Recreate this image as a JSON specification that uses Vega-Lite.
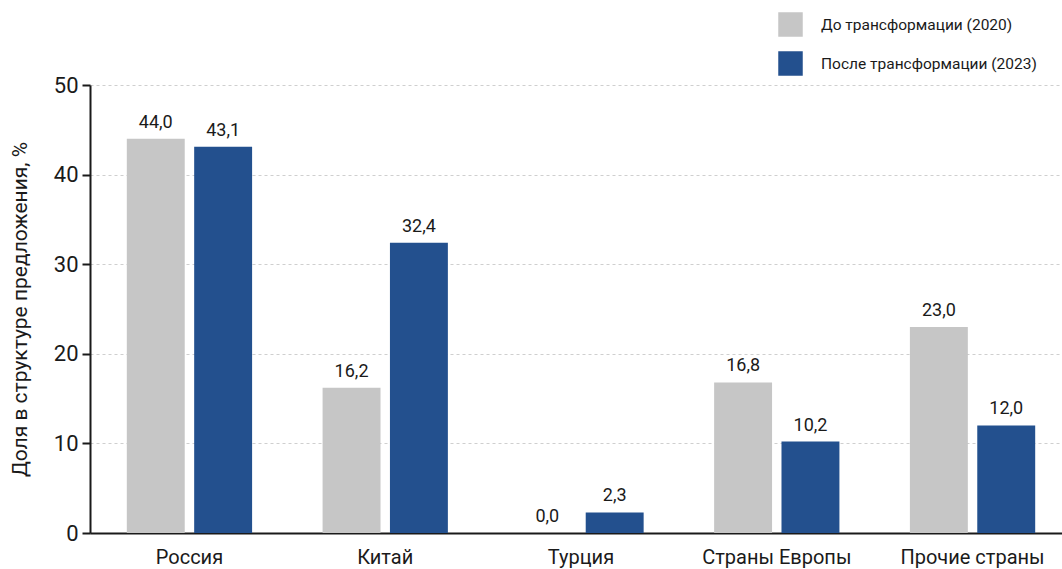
{
  "$schema": "https://vega.github.io/schema/vega-lite/v6.json",
  "width": 972,
  "height": 448,
  "autosize": {"type": "none"},
  "padding": {"left": 90, "top": 85, "right": 0, "bottom": 36},
  "background": "white",
  "config": {
    "font": "Roboto",
    "view": {"stroke": null},
    "locale": {"number": {"decimal": ",", "thousands": " ", "grouping": [3], "currency": ["", ""]}}
  },
  "data": {
    "values": [
      {"country": "Россия", "period": "До трансформации (2020)", "value": 44.0},
      {"country": "Россия", "period": "После трансформации (2023)", "value": 43.1},
      {"country": "Китай", "period": "До трансформации (2020)", "value": 16.2},
      {"country": "Китай", "period": "После трансформации (2023)", "value": 32.4},
      {"country": "Турция", "period": "До трансформации (2020)", "value": 0.0},
      {"country": "Турция", "period": "После трансформации (2023)", "value": 2.3},
      {"country": "Страны Европы", "period": "До трансформации (2020)", "value": 16.8},
      {"country": "Страны Европы", "period": "После трансформации (2023)", "value": 10.2},
      {"country": "Прочие страны", "period": "До трансформации (2020)", "value": 23.0},
      {"country": "Прочие страны", "period": "После трансформации (2023)", "value": 12.0}
    ]
  },
  "encoding": {
    "x": {
      "field": "country", "type": "nominal", "sort": null,
      "scale": {"range": [0, 982], "paddingInner": 0.36, "paddingOuter": 0.188},
      "axis": {
        "title": null, "labelAngle": 0, "labelFontSize": 20, "labelColor": "#1a1a1a",
        "ticks": false, "labelPadding": 14, "domainColor": "#1a1a1a", "domainWidth": 2
      }
    },
    "xOffset": {
      "field": "period", "type": "nominal",
      "scale": {"paddingInner": 0.14, "paddingOuter": 0}
    },
    "y": {
      "field": "value", "type": "quantitative",
      "scale": {"domain": [0, 50], "nice": false},
      "axis": {
        "title": "Доля в структуре предложения, %", "titleFontSize": 21, "titleFontWeight": "normal",
        "titleColor": "#1a1a1a", "titlePadding": 23,
        "values": [0, 10, 20, 30, 40, 50], "labelFontSize": 22, "labelColor": "#1a1a1a",
        "labelPadding": 4, "tickSize": 8, "tickColor": "#1a1a1a", "tickWidth": 2,
        "domainColor": "#1a1a1a", "domainWidth": 2,
        "grid": true, "gridDash": [3, 3], "gridColor": "#cfcfcf", "gridWidth": 1
      }
    }
  },
  "layer": [
    {
      "mark": {"type": "bar"},
      "encoding": {
        "color": {
          "field": "period", "type": "nominal",
          "scale": {"domain": ["До трансформации (2020)", "После трансформации (2023)"], "range": ["#c6c6c6", "#23508e"]},
          "legend": {
            "title": null, "orient": "none", "legendX": 688, "legendY": -73,
            "symbolType": "square", "symbolSize": 600, "symbolStrokeWidth": 0,
            "labelFontSize": 15.5, "labelColor": "#1a1a1a", "rowPadding": 14, "labelOffset": 18,
            "labelLimit": 400
          }
        }
      }
    },
    {
      "mark": {"type": "text", "baseline": "bottom", "dy": -7, "fontSize": 18, "color": "#1a1a1a"},
      "encoding": {
        "text": {"field": "value", "type": "quantitative", "format": ".1f"}
      }
    }
  ]
}
